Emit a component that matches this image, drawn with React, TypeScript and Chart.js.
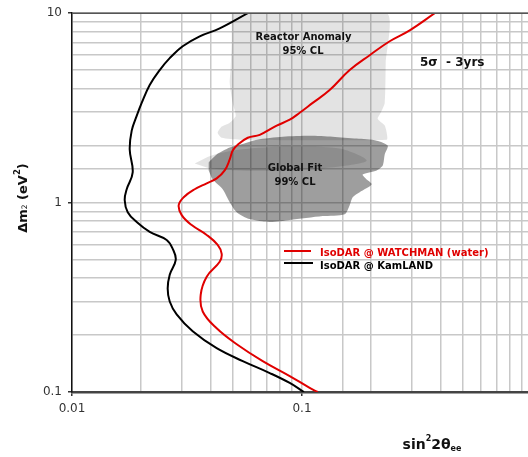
import React, { useEffect, useRef } from 'react';
import { Chart, registerables } from 'chart.js';

Chart.register(...registerables);

// IsoDAR @ WATCHMAN (water)  — red contour
const watchmanX = [0.3776, 0.294, 0.2406, 0.1969, 0.1612, 0.1319, 0.1113, 0.0977, 0.08843, 0.0776, 0.0655, 0.0581, 0.05254, 0.04997, 0.0485, 0.04612, 0.04256, 0.03852, 0.03416, 0.03059, 0.0291, 0.02999, 0.03314, 0.03852, 0.04299, 0.04475, 0.04386, 0.03852, 0.03628, 0.03701, 0.04256, 0.05202, 0.06748, 0.08843, 0.108, 0.117];
const watchmanY = [10, 8.12, 7.11, 6.0, 5.01, 3.93, 3.36, 2.98, 2.74, 2.55, 2.28, 2.2, 2.02, 1.883, 1.689, 1.479, 1.342, 1.264, 1.176, 1.067, 0.969, 0.859, 0.761, 0.675, 0.598, 0.5365, 0.487, 0.4063, 0.327, 0.2662, 0.2169, 0.1788, 0.1456, 0.1214, 0.1051, 0.1];

// IsoDAR @ KamLAND — black contour
const kamlandX = [0.0581, 0.04386, 0.03591, 0.03029, 0.0266, 0.02406, 0.02177, 0.02009, 0.01911, 0.01818, 0.01782, 0.01836, 0.01729, 0.01695, 0.01747, 0.01911, 0.02177, 0.0258, 0.02741, 0.02825, 0.0266, 0.02606, 0.0266, 0.02851, 0.03348, 0.04256, 0.05526, 0.0724, 0.08843, 0.102];
const kamlandY = [10, 8.31, 7.55, 6.69, 5.79, 5.01, 4.18, 3.36, 2.87, 2.4, 1.905, 1.443, 1.176, 1.029, 0.89, 0.789, 0.7, 0.635, 0.57, 0.499, 0.416, 0.3515, 0.3004, 0.2567, 0.2091, 0.1703, 0.1456, 0.1259, 0.1116, 0.1];

// Reactor Anomaly 95% CL region (two pieces)
const reactorTopX = [0.04947, 0.2335, 0.2312, 0.2289, 0.2199, 0.2134, 0.2289, 0.2335, 0.2335, 0.0536, 0.04475, 0.04299, 0.04475, 0.0485, 0.0515, 0.04997, 0.0485, 0.04898, 0.04947];
const reactorTopY = [10, 10, 5.45, 3.36, 2.98, 2.77, 2.55, 2.34, 2.15, 2.15, 2.2, 2.34, 2.52, 2.64, 2.87, 3.36, 4.28, 5.13, 6.94];
const reactorLensX = [0.03416, 0.04049, 0.0536, 0.08843, 0.1459, 0.1911, 0.1459, 0.08843, 0.0536, 0.03969];
const reactorLensY = [1.609, 1.772, 1.905, 1.976, 1.929, 1.669, 1.552, 1.479, 1.479, 1.515];

// Global Fit 99% CL region
const globalFitX = [0.03929, 0.04256, 0.0485, 0.0536, 0.06353, 0.08244, 0.108, 0.136, 0.1729, 0.2113, 0.2359, 0.2289, 0.2244, 0.2113, 0.1836, 0.1892, 0.2009, 0.1782, 0.1661, 0.1612, 0.1534, 0.123, 0.08843, 0.0724, 0.05924, 0.05202, 0.0485, 0.04519, 0.04089, 0.03929];
const globalFitY = [1.629, 1.794, 1.952, 2.02, 2.15, 2.229, 2.256, 2.229, 2.177, 2.124, 2.0, 1.794, 1.571, 1.479, 1.409, 1.342, 1.249, 1.134, 1.067, 0.969, 0.869, 0.849, 0.809, 0.789, 0.818, 0.89, 1.005, 1.176, 1.327, 1.479];

const xTickLabels = ['0.01', '0.1'];
const yTickLabels = ['0.1', '1', '10'];

const toPts = (xs: number[], ys: number[]) => xs.map((x, i) => ({ x, y: ys[i] }));
const fmt = (v: number) => String(parseFloat(Number(v).toPrecision(6)));

const FONT = '"DejaVu Sans", Verdana, sans-serif';

function drawRich(ctx: CanvasRenderingContext2D, parts: { t: string; f: string; dy: number }[], cx: number, baseY: number) {
  let total = 0;
  for (const p of parts) {
    ctx.font = p.f;
    total += ctx.measureText(p.t).width;
  }
  let x = cx - total / 2;
  ctx.textAlign = 'left';
  ctx.textBaseline = 'alphabetic';
  for (const p of parts) {
    ctx.font = p.f;
    ctx.fillText(p.t, x, baseY + p.dy);
    x += ctx.measureText(p.t).width;
  }
}

const overlayPlugin = {
  id: 'overlayText',
  afterDraw(chart: any) {
    const { ctx, chartArea: ca } = chart;
    ctx.save();
    // top frame line
    ctx.strokeStyle = '#555';
    ctx.lineWidth = 1.5;
    ctx.beginPath();
    ctx.moveTo(ca.left, ca.top);
    ctx.lineTo(ca.right, ca.top);
    ctx.stroke();

    // region annotations
    ctx.fillStyle = '#111';
    ctx.textAlign = 'center';
    ctx.textBaseline = 'middle';
    ctx.font = `bold 10px ${FONT}`;
    ctx.fillText('Reactor Anomaly', 303.5, 37.5);
    ctx.fillText('95% CL', 303, 51);
    ctx.fillText('Global Fit', 295, 168);
    ctx.fillText('99% CL', 295, 182);
    ctx.textAlign = 'left';
    ctx.font = `bold 12px ${FONT}`;
    ctx.fillText('5σ  - 3yrs', 420, 63);

    // legend
    const ds = chart.data.datasets;
    const legendItems = [
      { label: ds[0].label, color: ds[0].borderColor, y: 251, ty: 256, x2: 311 },
      { label: ds[1].label, color: ds[1].borderColor, y: 263, ty: 268.5, x2: 313 },
    ];
    for (const it of legendItems) {
      ctx.strokeStyle = it.color;
      ctx.lineWidth = 2;
      ctx.beginPath();
      ctx.moveTo(284, it.y);
      ctx.lineTo(it.x2, it.y);
      ctx.stroke();
      ctx.fillStyle = it.color;
      ctx.font = `bold 10px ${FONT}`;
      ctx.textAlign = 'left';
      ctx.textBaseline = 'alphabetic';
      ctx.fillText(it.label, 320, it.ty);
    }

    // x-axis title
    ctx.fillStyle = '#111';
    drawRich(ctx, [
      { t: 'sin', f: `bold 14px ${FONT}`, dy: 0 },
      { t: '2', f: `bold 8px ${FONT}`, dy: -8 },
      { t: '2θ', f: `bold 14px ${FONT}`, dy: 0 },
      { t: 'ee', f: `bold 8px ${FONT}`, dy: 2 },
    ], 432, 449);

    // y-axis title (rotated)
    ctx.save();
    ctx.translate(26.5, 198);
    ctx.rotate(-Math.PI / 2);
    drawRich(ctx, [
      { t: 'Δm', f: `bold 13px ${FONT}`, dy: 0 },
      { t: '2', f: `7.5px ${FONT}`, dy: 0 },
      { t: ' (eV', f: `bold 13px ${FONT}`, dy: 0 },
      { t: '2', f: `bold 8.5px ${FONT}`, dy: -6.5 },
      { t: ')', f: `bold 13px ${FONT}`, dy: 0 },
    ], 0, 0);
    ctx.restore();

    ctx.restore();
  },
};

export default function App() {
  const ref = useRef<HTMLCanvasElement>(null);

  useEffect(() => {
    if (!ref.current) return;
    const gridColor = '#c8c8c8';
    const chart = new Chart(ref.current, {
      type: 'scatter',
      data: {
        datasets: [
          {
            label: 'IsoDAR @ WATCHMAN (water)',
            data: toPts(watchmanX, watchmanY),
            showLine: true,
            borderColor: '#e00000',
            borderWidth: 2,
            pointRadius: 0,
            tension: 0.4,
            fill: false,
          },
          {
            label: 'IsoDAR @ KamLAND',
            data: toPts(kamlandX, kamlandY),
            showLine: true,
            borderColor: '#000000',
            borderWidth: 2,
            pointRadius: 0,
            tension: 0.4,
            fill: false,
          },
          {
            label: 'Global Fit 99% CL',
            data: toPts(globalFitX, globalFitY),
            showLine: true,
            borderColor: 'rgba(0,0,0,0)',
            borderWidth: 0,
            backgroundColor: 'rgba(0,0,0,0.38)',
            pointRadius: 0,
            tension: 0.25,
            fill: 'shape',
          },
          {
            label: 'Reactor Anomaly lens',
            data: toPts(reactorLensX, reactorLensY),
            showLine: true,
            borderColor: 'rgba(0,0,0,0)',
            borderWidth: 0,
            backgroundColor: 'rgba(0,0,0,0.11)',
            pointRadius: 0,
            tension: 0.3,
            fill: 'shape',
          },
          {
            label: 'Reactor Anomaly 95% CL',
            data: toPts(reactorTopX, reactorTopY),
            showLine: true,
            borderColor: 'rgba(0,0,0,0)',
            borderWidth: 0,
            backgroundColor: 'rgba(0,0,0,0.11)',
            pointRadius: 0,
            tension: 0.2,
            fill: 'shape',
          },
        ],
      },
      options: {
        responsive: false,
        animation: false,
        layout: { padding: { left: 0, top: 10, right: 13, bottom: 0 } },
        plugins: {
          legend: { display: false },
          tooltip: { enabled: false },
          title: { display: false },
        },
        scales: {
          x: {
            type: 'logarithmic',
            min: 0.01,
            max: 1,
            afterFit: (s: any) => { s.height = 65; },
            border: { color: '#444', width: 2.5 },
            grid: {
              color: gridColor,
              lineWidth: 1.5,
              tickLength: 4,
              tickColor: (c: any) => (c.tick && xTickLabels.includes(fmt(c.tick.value)) ? '#333' : 'rgba(0,0,0,0)'),
            },
            ticks: {
              autoSkip: false,
              maxRotation: 0,
              padding: 6,
              color: '#333',
              font: { family: FONT, size: 12 },
              callback: (v: any) => (xTickLabels.includes(fmt(+v)) ? fmt(+v) : ''),
            },
          },
          y: {
            type: 'logarithmic',
            min: 0.1,
            max: 10,
            afterFit: (s: any) => { s.width = 72; },
            border: { color: '#111', width: 1.5 },
            grid: {
              color: gridColor,
              lineWidth: 1.5,
              tickLength: 4,
              tickColor: (c: any) => (c.tick && yTickLabels.includes(fmt(c.tick.value)) ? '#333' : 'rgba(0,0,0,0)'),
            },
            ticks: {
              autoSkip: false,
              padding: 6,
              color: '#333',
              font: { family: FONT, size: 12 },
              callback: (v: any) => (yTickLabels.includes(fmt(+v)) ? fmt(+v) : ''),
            },
          },
        },
      },
      plugins: [overlayPlugin],
    });
    return () => chart.destroy();
  }, []);

  return (
    <div style={{ position: 'fixed', left: 0, top: 0, width: 528, height: 457, overflow: 'hidden', background: '#fff' }}>
      <canvas ref={ref} width={545} height={457} style={{ display: 'block' }} />
    </div>
  );
}
